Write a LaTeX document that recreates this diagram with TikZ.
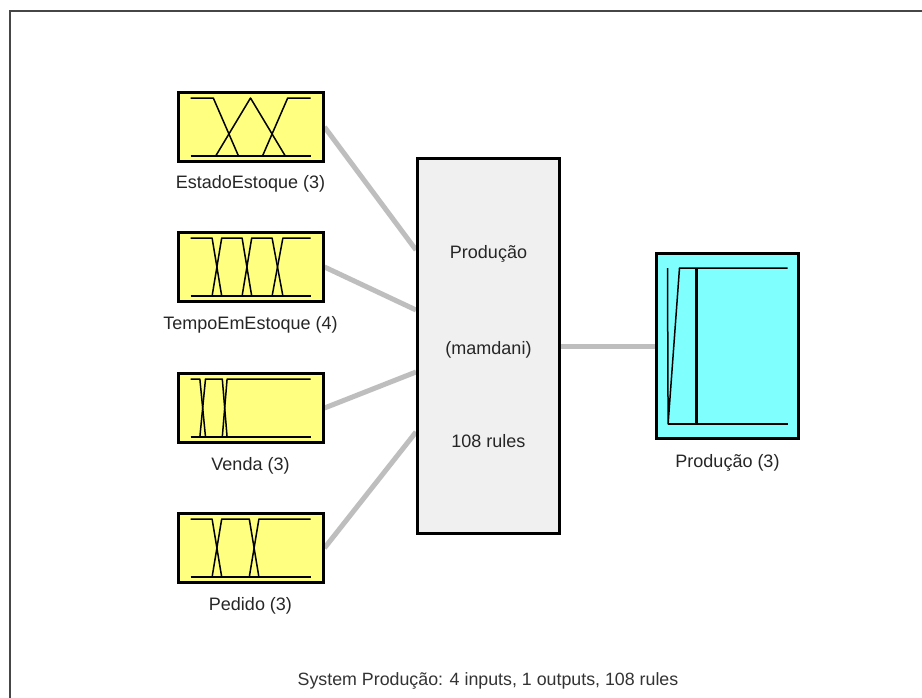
\documentclass[tikz,border=0pt]{standalone}
\usepackage{fontspec}
\setmainfont{Liberation Sans}
\usetikzlibrary{calc}
\definecolor{inyellow}{RGB}{255,255,128}
\definecolor{outcyan}{RGB}{128,255,255}
\definecolor{rulegray}{RGB}{240,240,240}
\definecolor{wiregray}{RGB}{190,190,190}
\definecolor{framegray}{RGB}{70,70,70}
\tikzset{
  inbox/.style={draw=black, line width=3pt, fill=inyellow, minimum width=145pt, minimum height=69pt, inner sep=0pt},
  outbox/.style={draw=black, line width=3pt, fill=outcyan, minimum width=142pt, minimum height=185pt, inner sep=0pt},
  rulebox/.style={draw=black, line width=3pt, fill=rulegray, minimum width=142pt, minimum height=375pt, inner sep=0pt},
  wire/.style={draw=wiregray, line width=5pt},
  mf/.style={draw=black, line width=1.5pt, line join=round},
  lbl/.style={font=\fontsize{18}{21}\selectfont, text=black!85, inner sep=0pt},
  syslbl/.style={font=\fontsize{17.8}{21}\selectfont, text=black!80, inner sep=0pt},
  plotin/.style={x=120pt, y=58pt, shift={(-0.5,-0.5)}},
  plotout/.style={x=120pt, y=156pt, shift={(-0.5,-0.5)}}
}
\begin{document}
\begin{tikzpicture}[x=1pt,y=-1pt]
\useasboundingbox (0,0) rectangle (922,697);
\fill[white] (0,0) rectangle (922,697);
% window frame
\draw[framegray, line width=2pt] (9.5,720) -- (9.5,10.5) -- (940,10.5);

% boxes
\node[inbox] (in1) at (250.5,127) {};
\node[inbox] (in2) at (250.5,267) {};
\node[inbox] (in3) at (250.5,408) {};
\node[inbox] (in4) at (250.5,548) {};
\node[rulebox] (mid) at (488.5,346) {};
\node[outbox] (out) at (727.5,346) {};

% connection points on the rule block
\coordinate (m1) at ($(mid.west)+(0,-96)$);
\coordinate (m2) at ($(mid.west)+(0,-36)$);
\coordinate (m3) at ($(mid.west)+(0,26)$);
\coordinate (m4) at ($(mid.west)+(0,86)$);

% connectors
\draw[wire] (in1.east) -- (m1);
\draw[wire] (in2.east) -- (m2);
\draw[wire] (in3.east) -- (m3);
\draw[wire] (in4.east) -- (m4);
\draw[wire] (mid.east) -- (out.west);

% redraw boxes on top of connectors
\node[inbox] at (in1) {};
\node[inbox] at (in2) {};
\node[inbox] at (in3) {};
\node[inbox] at (in4) {};
\node[rulebox] at (mid) {};
\node[outbox] at (out) {};

% membership functions: EstadoEstoque
\begin{scope}[shift={(in1.center)}, plotin]
  \draw[mf] (0,0) -- (1,0);
  \draw[mf] (0,1) -- (0.19,1) -- (0.40,0);
  \draw[mf] (0.21,0) -- (0.50,1) -- (0.79,0);
  \draw[mf] (0.60,0) -- (0.81,1) -- (1,1);
\end{scope}
% TempoEmEstoque
\begin{scope}[shift={(in2.center)}, plotin]
  \draw[mf] (0,0) -- (1,0);
  \draw[mf] (0,1) -- (0.18,1) -- (0.26,0);
  \draw[mf] (0.18,0) -- (0.26,1) -- (0.43,1) -- (0.51,0);
  \draw[mf] (0.43,0) -- (0.51,1) -- (0.68,1) -- (0.77,0);
  \draw[mf] (0.68,0) -- (0.77,1) -- (1,1);
\end{scope}
% Venda
\begin{scope}[shift={(in3.center)}, plotin]
  \draw[mf] (0,0) -- (1,0);
  \draw[mf] (0,1) -- (0.078,1) -- (0.125,0);
  \draw[mf] (0.078,0) -- (0.125,1) -- (0.265,1) -- (0.305,0);
  \draw[mf] (0.265,0) -- (0.305,1) -- (1,1);
\end{scope}
% Pedido
\begin{scope}[shift={(in4.center)}, plotin]
  \draw[mf] (0,0) -- (1,0);
  \draw[mf] (0,1) -- (0.18,1) -- (0.26,0);
  \draw[mf] (0.18,0) -- (0.26,1) -- (0.49,1) -- (0.57,0);
  \draw[mf] (0.49,0) -- (0.57,1) -- (1,1);
\end{scope}
% output Produção
\begin{scope}[shift={(out.center)}, plotout]
  \draw[mf] (0,0) -- (1,0);
  \draw[mf] (0,1) -- (0.005,0) -- (0.10,1) -- (1,1);
  \draw[mf, line width=2.6pt] (0.24,1) -- (0.24,0);
\end{scope}

% texts
\node[lbl] (t1) at ($(in1.south)+(0,21)$) {EstadoEstoque (3)};
\node[lbl] (t2) at ($(in2.south)+(0,22)$) {TempoEmEstoque (4)};
\node[lbl] (t3) at ($(in3.south)+(0,22)$) {Venda (3)};
\node[lbl] (t4) at ($(in4.south)+(0,22)$) {Pedido (3)};
\node[lbl] (to) at ($(out.south)+(0,23)$) {Produção (3)};
\node[lbl] (r1) at ($(mid.center)+(0,-92)$) {Produção};
\node[lbl] (r2) at ($(mid.center)+(0,4)$) {(mamdani)};
\node[lbl] (r3) at ($(mid.center)+(0,95)$) {108 rules};
\node[syslbl] (sys) at (488,681) {System Produção: 4 inputs, 1 outputs, 108 rules};
\end{tikzpicture}
\end{document}
